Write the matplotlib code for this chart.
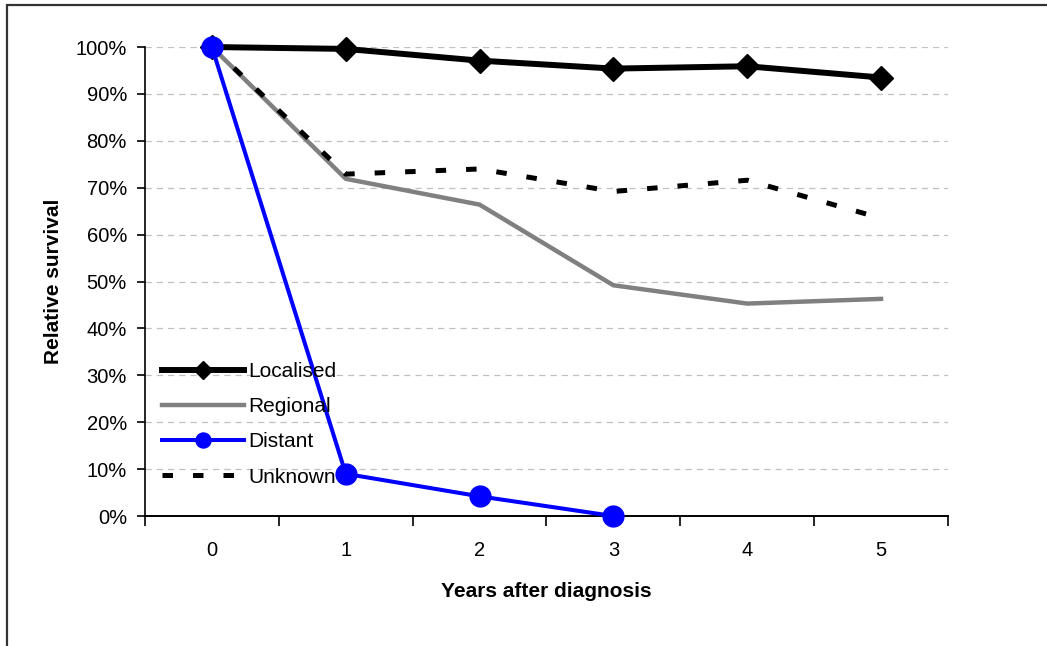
import matplotlib
matplotlib.use("Agg")
import matplotlib.pyplot as plt
import matplotlib.patches as patches
import numpy as np

plt.rcParams['font.family'] = ['Liberation Sans', 'DejaVu Sans']

years = [0, 1, 2, 3, 4, 5]
localised = [100, 99.6, 97.1, 95.4, 95.9, 93.5]
regional = [100, 71.9, 66.4, 49.2, 45.3, 46.3]
distant_years = [0, 1, 2, 3]
distant = [100, 9.0, 4.2, 0.0]
unknown = [100, 72.9, 74.0, 69.2, 71.6, 63.5]

y_ticks = np.arange(0, 101, 10)
y_labels = ["%d%%" % v for v in y_ticks]

fig = plt.figure(figsize=(10.47, 6.46), dpi=100)
ax = fig.add_axes([0.1385, 0.2012, 0.9054 - 0.1385, 0.9272 - 0.2012])

# outer frame (only top and left visible)
frame = patches.Rectangle((7 / 1047, -0.2), 1.2, 1 - 5 / 646 + 0.2,
                          transform=fig.transFigure, fill=False,
                          edgecolor='#333333', linewidth=1.6, clip_on=False)
fig.patches.append(frame)

ax.plot(years, localised, color='black', lw=4.3, marker='D', ms=12.5,
        label='Localised', zorder=3, clip_on=False)
ax.plot(years, regional, color='#808080', lw=3.2, label='Regional', zorder=2)
ax.plot(distant_years, distant, color='#0000ff', lw=2.9, marker='o', ms=15,
        label='Distant', zorder=5, clip_on=False)
ax.plot(years, unknown, color='black', lw=3.6, dashes=(2.1, 4),
        label='Unknown', zorder=4)

ax.set_xlim(-0.5, 5.5)
ax.set_ylim(0, 100)
ax.set_yticks(y_ticks)
ax.set_yticklabels(y_labels, fontsize=14.5)
ax.set_xticks(years)
ax.set_xticklabels([str(v) for v in years], fontsize=14.5)
ax.set_xticks(np.arange(-0.5, 5.6, 1), minor=True)
ax.tick_params(axis='x', which='major', length=0, pad=18)
ax.tick_params(axis='x', which='minor', length=7, width=1.2, direction='out')
ax.tick_params(axis='y', length=6, width=1.2, direction='out', pad=7)

ax.grid(axis='y', color='#c0c0c0', linestyle=(0, (5, 4)), lw=0.9)
ax.set_axisbelow(True)
for s in ['top', 'right']:
    ax.spines[s].set_visible(False)
ax.spines['left'].set_linewidth(1.2)
ax.spines['bottom'].set_linewidth(1.4)

ax.set_xlabel('Years after diagnosis', fontsize=15, fontweight='bold', labelpad=16)
ax.set_ylabel('Relative survival', fontsize=15, fontweight='bold', labelpad=9)

leg = ax.legend(loc='lower left', bbox_to_anchor=(0.011, 0.045), frameon=False,
                fontsize=15, handlelength=3.95, handletextpad=0.2,
                labelspacing=0.78, borderaxespad=0, markerscale=0.72)

fig.savefig('out.png', dpi=100)
